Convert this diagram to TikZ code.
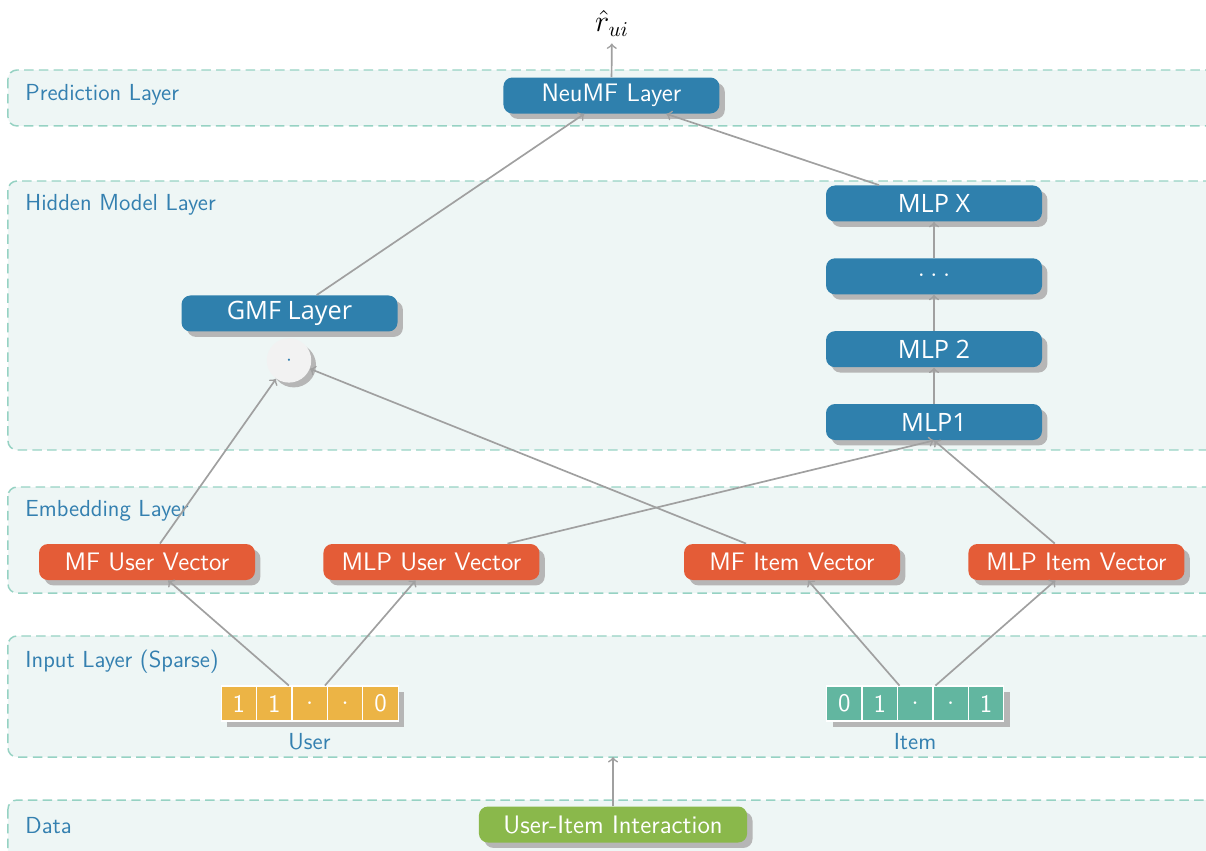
\documentclass[tikz,border=0pt]{standalone}
\usepackage{fontspec}
\newfontfamily\mlpfont{Open Sans}
\usetikzlibrary{positioning,shadows}

\definecolor{bandfill}{RGB}{238,246,245}
\definecolor{banddraw}{RGB}{150,210,195}
\definecolor{labelblue}{RGB}{52,128,176}
\definecolor{nodeblue}{RGB}{47,128,173}
\definecolor{nodeorange}{RGB}{228,92,55}
\definecolor{nodegreen}{RGB}{138,184,75}
\definecolor{useryellow}{RGB}{236,180,69}
\definecolor{itemteal}{RGB}{98,182,160}
\definecolor{arrowgray}{RGB}{160,160,160}
\definecolor{shadowgray}{RGB}{182,182,182}

\tikzset{
  band/.style={draw=banddraw, fill=bandfill, line width=0.7pt,
    dash pattern=on 4.5pt off 2.5pt, rounded corners=0.15cm},
  bandlabel/.style={anchor=west, text=labelblue,
    font=\sffamily\fontsize{11}{13}\selectfont},
  block/.style={rounded corners=0.15cm, minimum width=3.6cm,
    minimum height=0.6cm, inner sep=0pt, text=white, font=\sffamily\large,
    drop shadow={shadow xshift=0.09cm, shadow yshift=-0.09cm,
      fill=shadowgray, opacity=1}},
  mlpblock/.style={block, fill=nodeblue, font=\mlpfont\large},
  vecbox/.style={minimum width=2.95cm, minimum height=0.583cm, inner sep=0pt,
    drop shadow={shadow xshift=0.1cm, shadow yshift=-0.1cm,
      fill=shadowgray, opacity=1}},
  cell/.style={draw=white, line width=0.6pt, minimum width=0.59cm,
    minimum height=0.583cm, inner sep=0pt, anchor=west, text=white,
    font=\sffamily\large},
  arr/.style={->, draw=arrowgray, line width=0.8pt}
}

\begin{document}
\begin{tikzpicture}
    \useasboundingbox (0,0) rectangle (20.1,14.1667);

    % Layer bands
    \draw[band] (0.133,13.0) rectangle (20.5,12.067);
    \draw[band] (0.133,11.15) rectangle (20.5,6.667);
    \draw[band] (0.133,6.05) rectangle (20.5,4.283);
    \draw[band] (0.133,3.567) rectangle (20.5,1.55);
    \draw[band] (0.133,0.833) rectangle (20.5,-0.5);

    \node[bandlabel] (predlabel) at (0.3,12.583) {Prediction Layer};
    \node[bandlabel] (hiddenlabel) at (0.3,10.75) {Hidden Model Layer};
    \node[bandlabel] (embedlabel) at (0.3,5.65) {Embedding Layer};
    \node[bandlabel] (inputlabel) at (0.3,3.133) {Input Layer (Sparse)};
    \node[bandlabel] (datalabel) at (0.3,0.4) {Data};

    % Prediction
    \node[block, fill=nodeblue] (neumf) at (10.19,12.575) {NeuMF Layer};
    \node (out) at (10.2,13.78) {\Large $\hat{r}_{ui}$};

    % Hidden model layer
    \node[mlpblock] (mlp1) at (15.567,7.133) {MLP1};
    \node[mlpblock, above=0.6cm of mlp1] (mlp2) {MLP 2};
    \node[mlpblock, above=0.6cm of mlp2] (mlpdots) {$\cdot\cdot\cdot$};
    \node[mlpblock, above=0.6cm of mlpdots] (mlpx) {MLP X};
    \node[block, fill=nodeblue, font=\mlpfont\large] (gmf) at (4.825,8.942) {GMF Layer};
    \node[circle, fill=gray!10, minimum size=0.74cm, inner sep=0pt,
      drop shadow={shadow xshift=0.08cm, shadow yshift=-0.08cm, fill=shadowgray, opacity=1}]
      (prod) at (4.817,8.16) {\textcolor{labelblue}{$\cdot$}};

    % Embedding layer
    \node[block, fill=nodeorange] (mfu) at (2.45,4.8) {MF User Vector};
    \node[block, fill=nodeorange] (mlpu) at (7.19,4.8) {MLP User Vector};
    \node[block, fill=nodeorange] (mfi) at (13.2,4.8) {MF Item Vector};
    \node[block, fill=nodeorange] (mlpi) at (17.94,4.8) {MLP Item Vector};

    % Input layer
    \node[vecbox, fill=useryellow] (user) at (5.158,2.442) {};
    \foreach \v [count=\i] in {1,1,$\cdot$,$\cdot$,0}
        \node[cell, fill=useryellow] (u\i) at ([xshift={(\i-1)*0.59cm}]user.west) {\v};
    \node[vecbox, fill=itemteal] (item) at (15.25,2.442) {};
    \foreach \v [count=\i] in {0,1,$\cdot$,$\cdot$,1}
        \node[cell, fill=itemteal] (i\i) at ([xshift={(\i-1)*0.59cm}]item.west) {\v};
    \node[below=0.08cm of user, text=labelblue, font=\sffamily\fontsize{11}{13}\selectfont] (userlabel) {User};
    \node[below=0.08cm of item, text=labelblue, font=\sffamily\fontsize{11}{13}\selectfont] (itemlabel) {Item};

    % Data
    \node[block, fill=nodegreen, minimum width=4.47cm] (uii) at (10.217,0.425) {User-Item Interaction};
    \coordinate (inbottom) at (10.217,1.55);

    % Connections
    \draw[arr] (uii) -- (inbottom);
    \draw[arr] (user) -- (mfu);
    \draw[arr] (user) -- (mlpu);
    \draw[arr] (item) -- (mfi);
    \draw[arr] (item) -- (mlpi);
    \draw[arr] (mfu) -- (prod);
    \draw[arr] (mfi) -- (prod);
    \draw[arr] (mlpu) -- (mlp1.south);
    \draw[arr] (mlpi) -- (mlp1.south);
    \draw[arr] (mlp1) -- (mlp2);
    \draw[arr] (mlp2) -- (mlpdots);
    \draw[arr] (mlpdots) -- (mlpx);
    \draw[arr] (gmf) -- (neumf);
    \draw[arr] (mlpx) -- (neumf);
    \draw[arr] (neumf) -- (out);
\end{tikzpicture}
\end{document}
